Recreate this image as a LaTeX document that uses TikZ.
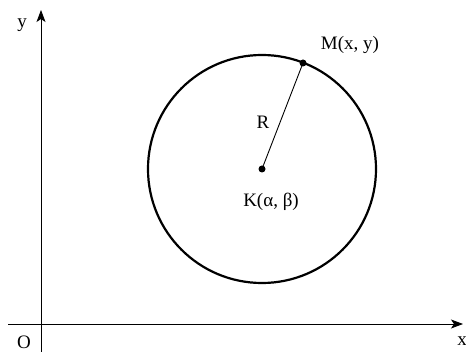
\documentclass[tikz,border=0pt]{standalone}
\usepackage{fontspec}
\setmainfont{Liberation Serif}
\usetikzlibrary{arrows.meta}

\begin{document}
\begin{tikzpicture}[
    x=1pt, y=-1pt,
    axisline/.style={-{Stealth[length=12pt, width=9pt, inset=3pt]}, line width=0.9pt},
    circline/.style={line width=2.2pt},
    radline/.style={line width=0.9pt},
    dot/.style={circle, fill, inner sep=0pt, minimum size=7pt},
    lbl/.style={font=\fontsize{19}{22}\selectfont, inner sep=0pt},
]
    \useasboundingbox (0, 0) rectangle (466, 352);

    \coordinate (xstart) at (8, 324);
    \coordinate (xend) at (463, 324);
    \coordinate (ystart) at (41, 352);
    \coordinate (yend) at (41, 10);
    \draw[axisline] (xstart) -- (xend);
    \draw[axisline] (ystart) -- (yend);
    \node[lbl] (ylabel) at (22, 25) {y};
    \node[lbl] (xlabel) at (462, 341) {x};
    \node[lbl] (origin) at (24, 342) {O};

    \node[dot] (center) at (262, 169) {};
    \draw[circline] (center.center) circle[radius=114pt];
    \node[dot] (point) at (303, 63) {};
    \draw[radline] (center.center) -- (point.center);
    \node[lbl] (rlabel) at (263, 122) {R};
    \node[lbl] (plabel) at (350, 45) {M(x, y)};
    \node[lbl] (clabel) at (271, 202) {K(α, β)};
\end{tikzpicture}
\end{document}
